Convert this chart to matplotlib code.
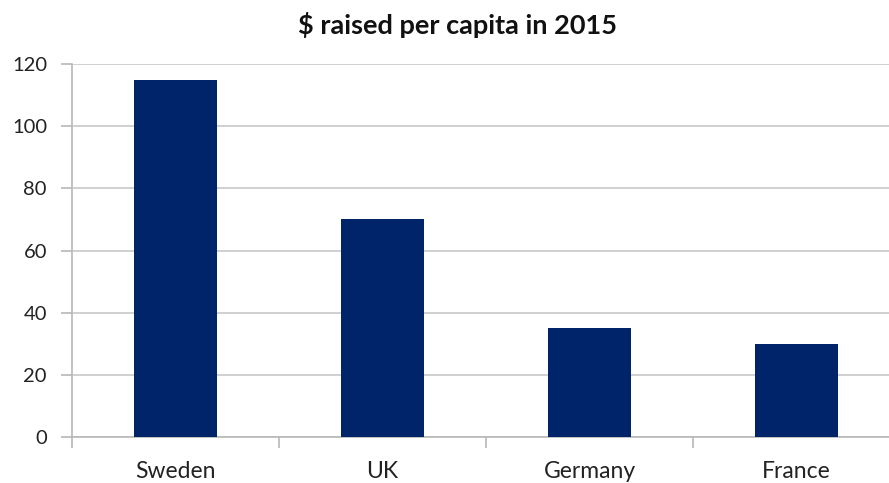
import matplotlib
matplotlib.use("Agg")
import matplotlib.pyplot as plt
import numpy as np

countries = ["Sweden", "UK", "Germany", "France"]
raised = [115, 70, 35, 30]
y_ticks = [0, 20, 40, 60, 80, 100, 120]

plt.rcParams["font.family"] = ["Lato", "DejaVu Sans"]

fig = plt.figure(figsize=(8.89, 4.83), dpi=100, facecolor="white")
ax = fig.add_axes([72 / 889, 46 / 483, 828 / 889, 373 / 483])

x = np.arange(len(countries))
ax.bar(x, raised, width=0.4, color="#002469", zorder=3)

ax.set_xlim(-0.5, len(countries) - 0.5)
ax.set_ylim(0, 120)
ax.set_yticks(y_ticks)
ax.yaxis.grid(True, color="#c8c8c8", linewidth=1.2, zorder=0)

ax.set_xticks(x)
ax.set_xticklabels(countries)
ax.set_xticks(np.arange(len(countries)) - 0.5, minor=True)
ax.tick_params(axis="x", which="major", length=0, pad=17, labelsize=16.5, colors="#222222")
ax.tick_params(axis="x", which="minor", length=8, width=1.2, color="#b8b8b8", direction="out")
ax.tick_params(axis="y", length=8, width=1.2, color="#b8b8b8", pad=10, labelsize=14.5,
               labelcolor="#222222")

for side in ["top", "right"]:
    ax.spines[side].set_visible(False)
for side in ["left", "bottom"]:
    ax.spines[side].set_color("#b8b8b8")
    ax.spines[side].set_linewidth(1.2)

fig.text(457 / 889, 1 - 25 / 483, "$ raised per capita in 2015", ha="center", va="center",
         fontsize=19.5, fontweight="bold", color="#111111")

fig.savefig("out.png", dpi=100, facecolor="white")
